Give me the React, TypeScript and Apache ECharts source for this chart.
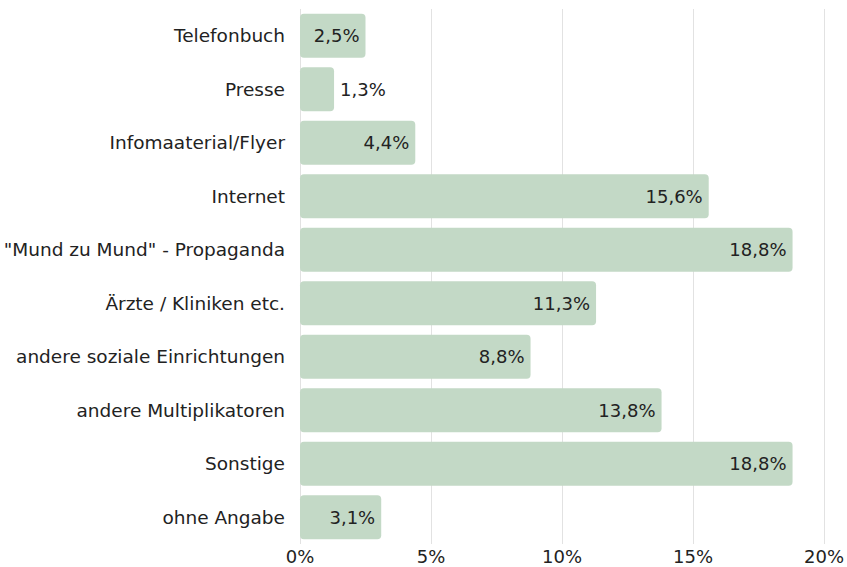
import React, { useEffect, useRef } from "react";
import * as echarts from "echarts";

const categories = [
  "Telefonbuch",
  "Presse",
  "Infomaaterial/Flyer",
  "Internet",
  "\"Mund zu Mund\" - Propaganda",
  "Ärzte / Kliniken etc.",
  "andere soziale Einrichtungen",
  "andere Multiplikatoren",
  "Sonstige",
  "ohne Angabe",
];
const values = [2.5, 1.3, 4.4, 15.6, 18.8, 11.3, 8.8, 13.8, 18.8, 3.1];
const outsideLabelThreshold = 2;

const fmt = (v: number) => v.toFixed(1).replace(".", ",") + "%";

export default function App() {
  const ref = useRef<HTMLDivElement>(null);
  useEffect(() => {
    if (!ref.current) return;
    const chart = echarts.init(ref.current, undefined, { renderer: "svg" });
    const font = "DejaVu Sans";
    chart.setOption({
      animation: false,
      grid: { left: 300, right: 19, top: 9, bottom: 23, containLabel: false },
      xAxis: {
        type: "value",
        min: 0,
        max: 20,
        interval: 5,
        axisLine: { show: false },
        axisTick: { show: false },
        splitLine: { show: true, lineStyle: { color: "#e2e2e2", width: 1 } },
        axisLabel: {
          formatter: (v: number) => v + "%",
          color: "#222",
          fontSize: 18,
          fontFamily: font,
          margin: 3,
        },
      },
      yAxis: {
        type: "category",
        data: categories,
        inverse: true,
        axisLine: { show: false },
        axisTick: { show: false },
        axisLabel: { color: "#222", fontSize: 18.5, fontFamily: font, margin: 15 },
      },
      series: [
        {
          type: "bar",
          barWidth: 44,
          data: values.map((v) => ({
            value: v,
            label: {
              show: true,
              position: v < outsideLabelThreshold ? "right" : "insideRight",
              distance: 6,
              formatter: () => fmt(v),
              color: "#222",
              fontSize: 18,
              fontFamily: font,
            },
          })),
          itemStyle: { color: "#c3d9c6", borderRadius: 4 },
        },
      ],
    });
    return () => chart.dispose();
  }, []);
  return <div ref={ref} style={{ width: 847, height: 567, position: "absolute", left: 0, top: 0 }} />;
}
